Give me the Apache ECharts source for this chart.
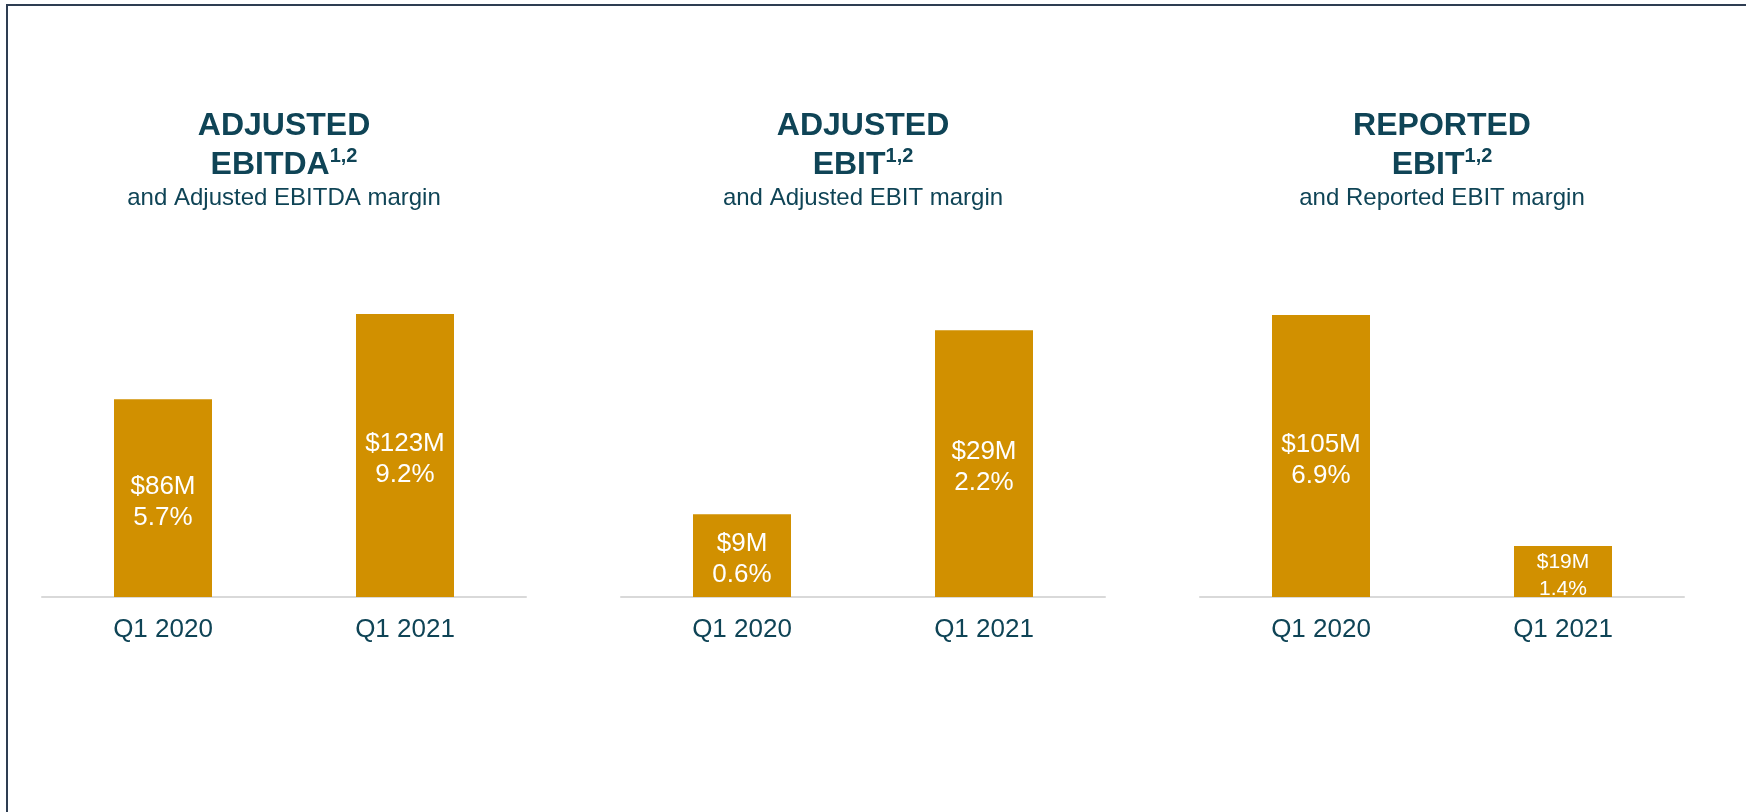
<!DOCTYPE html>
<html>
<head>
<meta charset="utf-8">
<title>Adjusted EBITDA and EBIT</title>
<script src="https://cdn.jsdelivr.net/npm/echarts@6/dist/echarts.min.js"></script>
<style>
  html, body {
    margin: 0;
    padding: 0;
    background: #fff;
  }
  .frame {
    position: absolute;
    left: 6px;
    top: 4px;
    right: 0;
    bottom: 0;
    border-top: 2px solid #2e3d52;
    border-left: 2px solid #2e3d52;
  }
  #chart {
    position: absolute;
    left: 0;
    top: 0;
    width: 1746px;
    height: 812px;
  }
</style>
</head>
<body>
<div class="frame"></div>
<div id="chart"></div>
<script>
const categories = ['Q1 2020', 'Q1 2021'];

const adjEbitda = [86, 123];
const adjEbitdaMargin = [5.7, 9.2];
const adjEbit = [9, 29];
const adjEbitMargin = [0.6, 2.2];
const repEbit = [105, 19];
const repEbitMargin = [6.9, 1.4];

const headings = ['ADJUSTED', 'ADJUSTED', 'REPORTED'];
const metrics = ['EBITDA', 'EBIT', 'EBIT'];
const footnote = '1,2';
const subtitles = ['and Adjusted EBITDA margin', 'and Adjusted EBIT margin', 'and Reported EBIT margin'];

const panelValues = [adjEbitda, adjEbit, repEbit];
const panelMargins = [adjEbitdaMargin, adjEbitMargin, repEbitMargin];

// layout
const panelLeft = [42, 621, 1200];
const panelWidth = 484;
const yMax = [130.4, 32.6, 111.7];

const teal = '#0f4456';
const gold = '#d19000';
const font = "'Liberation Sans', Arial, sans-serif";

const chart = echarts.init(document.getElementById('chart'));

const titles = headings.map((h, i) => ({
  text: '{b|' + h + '}\n{b|' + metrics[i] + '}{sup|' + footnote + '}\n{s|' + subtitles[i] + '}',
  left: panelLeft[i] + panelWidth / 2,
  top: 107,
  padding: 0,
  textAlign: 'center',
  textVerticalAlign: 'top',
  textStyle: {
    rich: {
      b: { fontFamily: font, fontSize: 32, fontWeight: 'bold', color: teal, lineHeight: 39 },
      sup: { fontFamily: font, fontSize: 20, fontWeight: 'bold', color: teal, lineHeight: 30, verticalAlign: 'top' },
      s: { fontFamily: font, fontSize: 24, fontWeight: 'normal', color: teal, lineHeight: 27 }
    }
  }
}));

const grids = panelLeft.map(left => ({
  left: left,
  width: panelWidth,
  top: 297,
  bottom: 215
}));

const xAxes = panelLeft.map((_, i) => ({
  type: 'category',
  gridIndex: i,
  data: categories,
  axisLine: { lineStyle: { color: '#d9d9d9', width: 2 } },
  axisTick: { show: false },
  axisLabel: { color: teal, fontFamily: font, fontSize: 26, margin: 20 }
}));

const yAxes = panelLeft.map((_, i) => ({
  type: 'value',
  gridIndex: i,
  min: 0,
  max: yMax[i],
  show: false,
  splitLine: { show: false }
}));

const series = panelValues.map((values, i) => ({
  type: 'bar',
  xAxisIndex: i,
  yAxisIndex: i,
  barWidth: 98,
  itemStyle: { color: gold },
  data: values.map(v => {
    const small = v / yMax[i] < 0.2;
    return {
      value: v,
      label: small ? { fontSize: 21, lineHeight: 27, offset: [0, 4] } : {}
    };
  }),
  label: {
    show: true,
    position: 'inside',
    color: '#fff',
    fontFamily: font,
    fontSize: 26,
    lineHeight: 31,
    offset: [0, 4],
    formatter: p => '$' + p.value + 'M\n' + panelMargins[i][p.dataIndex].toFixed(1) + '%'
  }
}));

chart.setOption({
  animation: false,
  title: titles,
  grid: grids,
  xAxis: xAxes,
  yAxis: yAxes,
  series: series
});
</script>
</body>
</html>
